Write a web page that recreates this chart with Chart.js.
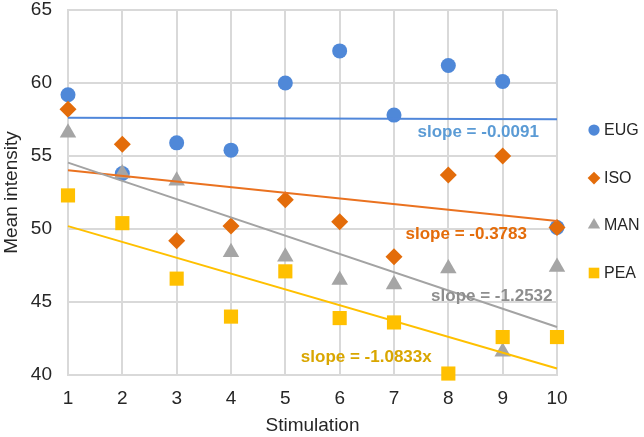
<!DOCTYPE html>
<html><head><meta charset="utf-8">
<script src="https://cdn.jsdelivr.net/npm/chart.js@4/dist/chart.umd.min.js"></script>
<style>html,body{margin:0;padding:0;background:#fff}#wrap{width:644px;height:437px}</style>
</head><body><div id="wrap"><canvas id="c" width="644" height="437"></canvas></div>
<script>
const stimulation = [1,2,3,4,5,6,7,8,9,10];
const seriesNames = ["EUG","ISO","MAN","PEA"];
const EUG = [59.2,53.8,55.9,55.4,60.0,62.2,57.8,61.2,60.1,50.1];
const ISO = [58.2,55.8,49.2,50.2,52.0,50.5,48.1,53.7,55.0,50.1];
const MAN = [56.6,53.8,53.3,48.4,48.1,46.5,46.2,47.3,41.6,47.4];
const PEA = [52.3,50.4,46.6,44.0,47.1,43.9,43.6,40.1,42.6,42.6];
const slopeLabels = ["slope = -0.0091","slope = -0.3783","slope = -1.2532","slope = -1.0833x"];
const yTicks = [40,45,50,55,60,65];

const values = [EUG, ISO, MAN, PEA];
const markerColors = ["#4F88D8","#E36C0A","#A5A5A5","#FFC000"];
const lineColors = ["#5087DA","#EA7220","#A3A3A3","#FFC000"];
const labelColors = ["#5B9BD5","#E46C0A","#8E8E8E","#D9A600"];
const pointStyles = ["circle","rectRot","triangle","rect"];
const pointRadii = [7.5,8.5,9.5,10];
const labelAnchors = [[8.55,56.6],[8.33,49.63],[8.8,45.36],[6.49,41.23]];

function fit(xs, ys){
  const n=xs.length; let sx=0,sy=0,sxx=0,sxy=0;
  for(let i=0;i<n;i++){sx+=xs[i];sy+=ys[i];sxx+=xs[i]*xs[i];sxy+=xs[i]*ys[i];}
  const b=(n*sxy-sx*sy)/(n*sxx-sx*sx); const a=(sy-b*sx)/n; return {a,b};
}

const datasets = [];
values.forEach((v,i)=>{
  datasets.push({type:'scatter',label:seriesNames[i],data:stimulation.map((x,j)=>({x,y:v[j]})),
    pointStyle:pointStyles[i],pointRadius:pointRadii[i],pointHoverRadius:pointRadii[i],
    backgroundColor:markerColors[i],borderColor:markerColors[i],borderWidth:0,order:10-i,clip:false});
});
values.forEach((v,i)=>{
  const f=fit(stimulation,v); const x0=stimulation[0], x1=stimulation[stimulation.length-1];
  datasets.push({type:'line',label:seriesNames[i]+' trend',data:[{x:x0,y:f.a+f.b*x0},{x:x1,y:f.a+f.b*x1}],
    borderColor:lineColors[i],borderWidth:2,pointRadius:0,fill:false,order:5-i,clip:false});
});

const overlay = {
  id:'overlay',
  afterDatasetsDraw(chart){
    const ctx=chart.ctx, xs=chart.scales.x, ys=chart.scales.y;
    ctx.save();
    ctx.textAlign='center'; ctx.textBaseline='middle';
    ctx.font='bold 17px "Liberation Sans", Arial, sans-serif';
    slopeLabels.forEach((t,i)=>{
      ctx.fillStyle=labelColors[i];
      ctx.fillText(t, xs.getPixelForValue(labelAnchors[i][0]), ys.getPixelForValue(labelAnchors[i][1]));
    });
    const legY=[130,178,225,273];
    ctx.textAlign='left';
    ctx.font='16px "Liberation Sans", Arial, sans-serif';
    seriesNames.forEach((n,i)=>{
      ctx.fillStyle=markerColors[i]; ctx.strokeStyle=markerColors[i];
      Chart.helpers.drawPoint(ctx,{pointStyle:pointStyles[i],radius:pointRadii[i]*0.75,borderWidth:0},594,legY[i]);
      ctx.fillStyle='#262626';
      ctx.fillText(n,604,legY[i]+1);
    });
    ctx.restore();
  }
};

new Chart(document.getElementById('c'),{
  type:'scatter',
  data:{datasets},
  plugins:[overlay],
  options:{
    responsive:false,animation:false,
    layout:{padding:{left:0,right:87,top:9,bottom:0}},
    plugins:{legend:{display:false},tooltip:{enabled:false}},
    scales:{
      x:{type:'linear',min:1,max:10,
        ticks:{stepSize:1,color:'#262626',padding:12,font:{size:19,family:'"Liberation Sans", Arial, sans-serif'}},
        grid:{color:'#D9D9D9',lineWidth:2,drawTicks:false},border:{color:'#D9D9D9',width:2},
        title:{display:true,text:'Stimulation',color:'#262626',padding:{top:0,bottom:0},font:{size:19,family:'"Liberation Sans", Arial, sans-serif'}},
        afterFit(s){s.height=62;s.paddingLeft=0;s.paddingRight=0;}
      },
      y:{type:'linear',min:40,max:65,
        afterBuildTicks(s){s.ticks=yTicks.map(v=>({value:v}));},
        ticks:{color:'#262626',padding:16,font:{size:19,family:'"Liberation Sans", Arial, sans-serif'}},
        grid:{color:'#D9D9D9',lineWidth:2,drawTicks:false},border:{color:'#D9D9D9',width:2},
        title:{display:true,text:'Mean intensity',color:'#262626',padding:{top:0,bottom:2},font:{size:19,family:'"Liberation Sans", Arial, sans-serif'}},
        afterFit(s){s.width=68;s.paddingTop=0;s.paddingBottom=0;}
      }
    }
  }
});
</script></body></html>
